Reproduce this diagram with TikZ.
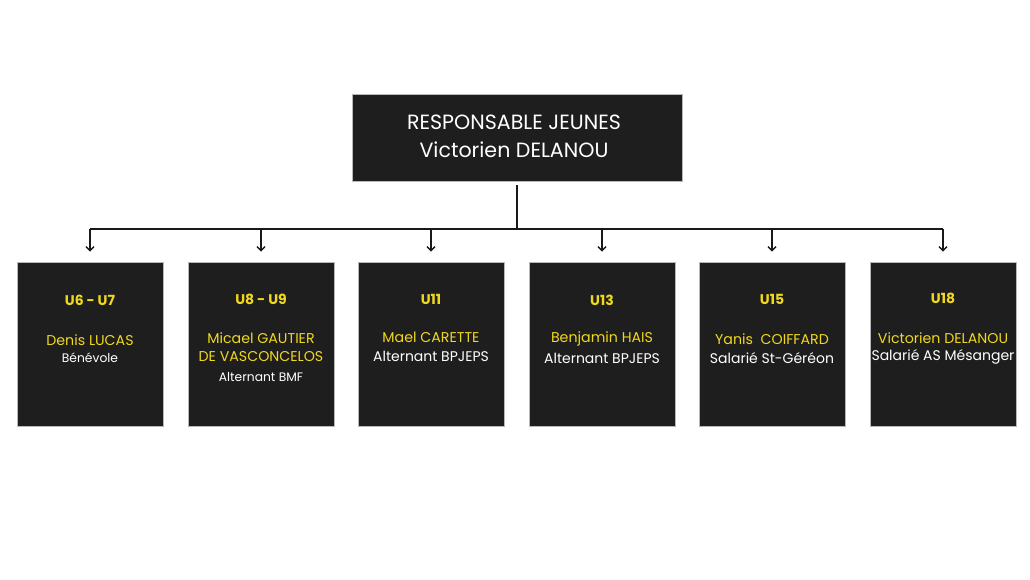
\documentclass[tikz,border=0pt]{standalone}
\usepackage{fontspec}
\setmainfont{Poppins}
\usetikzlibrary{arrows.meta}
\definecolor{boxfill}{HTML}{1E1E1E}
\definecolor{boxline}{HTML}{B8B8B8}
\definecolor{gold}{HTML}{F0D81E}
\begin{document}
\begin{tikzpicture}[x=1pt,y=-1pt,
  boxstyle/.style={draw=boxline,line width=0.6pt,fill=boxfill,inner sep=0pt,minimum width=146pt,minimum height=164pt},
  topstyle/.style={draw=boxline,line width=0.6pt,fill=boxfill,inner sep=0pt,minimum width=330pt,minimum height=87pt},
  conn/.style={line width=1.9pt,draw=black!90},
  arr/.style={conn,-{Straight Barb[length=4pt,width=8pt,line width=1.4pt]},shorten >=10pt},
  ttl/.style={text=gold,font=\fontsize{14}{16}\selectfont\bfseries},
  nm/.style={text=gold,font=\fontsize{14.2}{17}\selectfont},
  rl/.style={text=white,font=\fontsize{14}{17}\selectfont},
  rls/.style={text=white,font=\fontsize{12.3}{14}\selectfont},
  toptext/.style={text=white,font=\fontsize{20.6}{24}\selectfont}]
\useasboundingbox (0,0) rectangle (1030,579);
\fill[white] (0,0) rectangle (1030,579);
% top box
\node[topstyle] (top) at (517,137.5) {};
\node[toptext] (t1) at (514,122) {RESPONSABLE JEUNES};
\node[toptext] (t2) at (514,150) {Victorien DELANOU};
% child boxes
\node[boxstyle] (b1) at (90,344) {};
\node[boxstyle] (b2) at (261,344) {};
\node[boxstyle] (b3) at (431,344) {};
\node[boxstyle] (b4) at (602,344) {};
\node[boxstyle] (b5) at (772,344) {};
\node[boxstyle] (b6) at (943,344) {};
% bus
\coordinate (bus) at (517,229);
\coordinate (busL) at (90,229);
\coordinate (busR) at (943,229);
\draw[conn] (517,185) -- (bus);
\draw[conn] (busL) -- (busR);
\foreach \b in {b1,b2,b3,b4,b5,b6}{
  \draw[arr] (\b.north |- bus) -- (\b.north);
}
% texts
\node[ttl] (l1a) at (90,300) {U6 - U7};
\node[nm]  (l1b) at (90,340) {Denis LUCAS};
\node[rls] (l1c) at (90,358) {Bénévole};

\node[ttl] (l2a) at (261,299) {U8 - U9};
\node[nm]  (l2b) at (261,338) {Micael GAUTIER};
\node[nm]  (l2c) at (261,357) {DE VASCONCELOS};
\node[rls] (l2d) at (261,377) {Alternant BMF};

\node[ttl] (l3a) at (431,299) {U11};
\node[nm]  (l3b) at (431,337) {Mael CARETTE};
\node[rl]  (l3c) at (431,356) {Alternant BPJEPS};

\node[ttl] (l4a) at (602,300) {U13};
\node[nm]  (l4b) at (602,339) {Benjamin HAIS};
\node[rl]  (l4c) at (602,358) {Alternant BPJEPS};

\node[ttl] (l5a) at (772,299) {U15};
\node[nm]  (l5b) at (772,339) {Yanis\ \ COIFFARD};
\node[rl]  (l5c) at (772,358) {Salarié St-Géréon};

\node[ttl] (l6a) at (943,298) {U18};
\node[nm]  (l6b) at (943,338) {Victorien DELANOU};
\node[rl]  (l6c) at (943,357) {Salarié AS Mésanger};
\end{tikzpicture}
\end{document}
